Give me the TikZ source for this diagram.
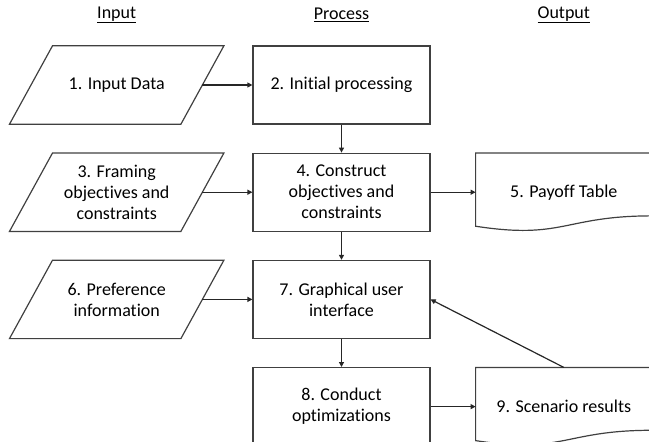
\documentclass[tikz,border=0pt]{standalone}
\usepackage{fontspec}
\setmainfont{Carlito}[Ligatures={NoCommon}]
\usetikzlibrary{arrows.meta, positioning, calc}

\tikzset{
    head/.style={font=\fontsize{18}{21}\selectfont},
    outline/.style={draw=black!75, line width=1.2pt},
    procbox/.style={rectangle, outline, minimum width=177pt, minimum height=78pt, align=center, font=\fontsize{18}{21}\selectfont},
    inbox/.style={rectangle, minimum width=171pt, minimum height=78pt, align=center, font=\fontsize{18}{21}\selectfont},
    docbox/.style={rectangle, minimum width=176pt, minimum height=78pt, align=center, font=\fontsize{18}{21}\selectfont},
    flow/.style={-{Triangle[length=5pt, width=5pt]}, line width=1.2pt, draw=black!85}
}

\begin{document}
\begin{tikzpicture}[x=1pt, y=-1pt, node distance=28pt and 50pt]
    \useasboundingbox (0,0) rectangle (649,442);

    \node (proc) [procbox] at (341.5,85) {2. Initial processing};
    \node (cons) [procbox, below=of proc] {4. Construct\\objectives and\\constraints};
    \node (gui) [procbox, below=of cons] {7. Graphical user\\interface};
    \node (opt) [procbox, below=of gui] {8. Conduct\\optimizations};

    \node (in1) [inbox, left=of proc] {1. Input Data};
    \node (in3) [inbox, left=of cons] {3. Framing\\objectives and\\constraints};
    \node (in6) [inbox, left=of gui] {6. Preference\\information};

    \node (pay) [docbox, right=45pt of cons] {5. Payoff Table};
    \node (scen) [docbox, right=45pt of opt] {9. Scenario results};

    \node (hProc) [head] at (341.5,15) {\underline{Process}};
    \node (hIn) [head] at (in1 |- hProc) {\underline{Input}};
    \node (hOut) [head] at (pay |- hProc) {\underline{Output}};

    % slanted input boxes
    \foreach \p in {in1, in3, in6}
        \draw[outline] ([xshift=-21.5pt]\p.south west) -- ([xshift=-21.5pt]\p.south east)
            -- ([xshift=21.5pt]\p.north east) -- ([xshift=21.5pt]\p.north west) -- cycle;

    % document outlines with wavy bottom
    \foreach \d in {pay, scen}
        \draw[outline] (\d.north west) -- (\d.north east)
            -- ($(\d.north east)!0.802!(\d.south east)$)
            .. controls ($(\d.north)!0.802!(\d.south)$) and ($(\d.north)!1.1075!(\d.south)$)
            .. ($(\d.north west)!0.934!(\d.south west)$) -- cycle;

    \draw[flow] (in1.east) -- (proc.west);
    \draw[flow] (in3.east) -- (cons.west);
    \draw[flow] (in6.east) -- (gui.west);
    \draw[flow] (proc.south) -- (cons.north);
    \draw[flow] (cons.south) -- (gui.north);
    \draw[flow] (gui.south) -- (opt.north);
    \draw[flow] (cons.east) -- (pay.west);
    \draw[flow] (opt.east) -- (scen.west);
    \draw[flow] (scen.north) -- (gui.east);
\end{tikzpicture}
\end{document}
